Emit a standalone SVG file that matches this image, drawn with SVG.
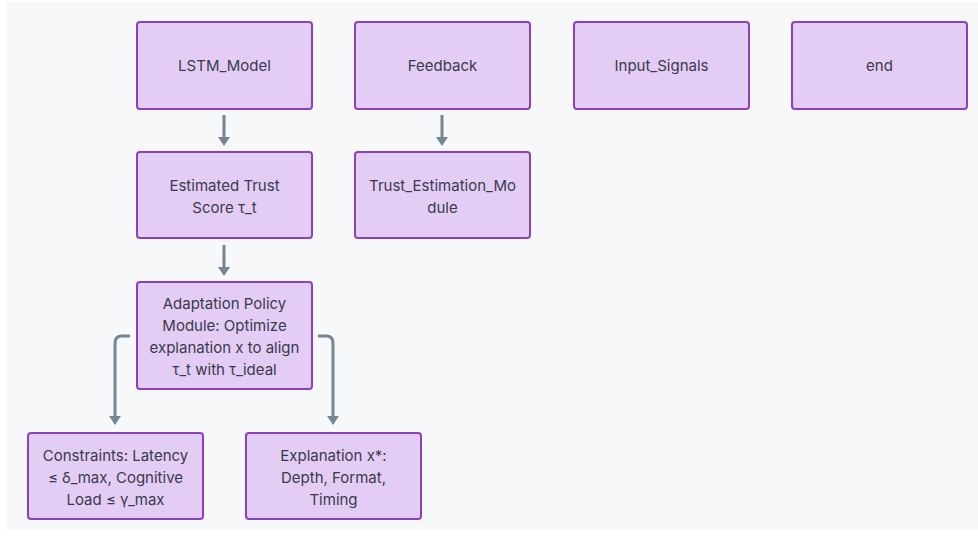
<svg xmlns="http://www.w3.org/2000/svg" width="978" height="541" viewBox="0 0 978 541">
<style>
.node rect{fill:#e3cdf4;stroke:#8e3fbf;stroke-width:2}
.node text{font-family:Inter,"Noto Sans",sans-serif;font-size:15px;fill:#3a3a4c;text-anchor:middle}
.edge{fill:none;stroke:#768594;stroke-width:3}
.head{fill:#768594}
</style>
<rect x="0" y="0" width="978" height="541" fill="#ffffff"/>
<rect x="7" y="2" width="971" height="528" fill="#f7f8f9"/>
<g id="connectors">
<path class="edge" d="M224,115 V138"/>
<path class="head" d="M218,137 L230,137 L224,146 z"/>
<path class="edge" d="M442,115 V138"/>
<path class="head" d="M436,137 L448,137 L442,146 z"/>
<path class="edge" d="M224,245 V268"/>
<path class="head" d="M218,267 L230,267 L224,276 z"/>
<path class="edge" d="M130,336 H122 Q115,336 115,343 V417"/>
<path class="head" d="M109,416 L121,416 L115,425 z"/>
<path class="edge" d="M318,336 H326 Q333,336 333,343 V417"/>
<path class="head" d="M327,416 L339,416 L333,425 z"/>
</g>
<g id="LSTM_Model" class="node"><rect x="137" y="22" width="175" height="87" rx="3"/><text x="224.5" y="71">LSTM_Model</text></g>
<g id="Feedback" class="node"><rect x="355" y="22" width="175" height="87" rx="3"/><text x="442.5" y="71">Feedback</text></g>
<g id="Input_Signals" class="node"><rect x="574" y="22" width="175" height="87" rx="3"/><text x="661.5" y="71">Input_Signals</text></g>
<g id="end" class="node"><rect x="792" y="22" width="175" height="87" rx="3"/><text x="879.5" y="71">end</text></g>
<g id="Estimated_Trust" class="node"><rect x="137" y="152" width="175" height="86" rx="3"/><text x="224.5" y="191">Estimated Trust</text><text x="224.5" y="213">Score τ_t</text></g>
<g id="Trust_Estimation_Module" class="node"><rect x="355" y="152" width="175" height="86" rx="3"/><text x="442.5" y="191">Trust_Estimation_Mo</text><text x="442.5" y="213">dule</text></g>
<g id="Adaptation_Policy" class="node"><rect x="137" y="282" width="175" height="107" rx="3"/><text x="224.5" y="309">Adaptation Policy</text><text x="224.5" y="331">Module: Optimize</text><text x="224.5" y="353">explanation x to align</text><text x="224.5" y="375">τ_t with τ_ideal</text></g>
<g id="Constraints" class="node"><rect x="28" y="433" width="175" height="86" rx="3"/><text x="115.5" y="461">Constraints: Latency</text><text x="115.5" y="483">≤ δ_max, Cognitive</text><text x="115.5" y="505">Load ≤ γ_max</text></g>
<g id="Explanation" class="node"><rect x="246" y="433" width="175" height="86" rx="3"/><text x="333.5" y="461">Explanation x*:</text><text x="333.5" y="483">Depth, Format,</text><text x="333.5" y="505">Timing</text></g>
</svg>
